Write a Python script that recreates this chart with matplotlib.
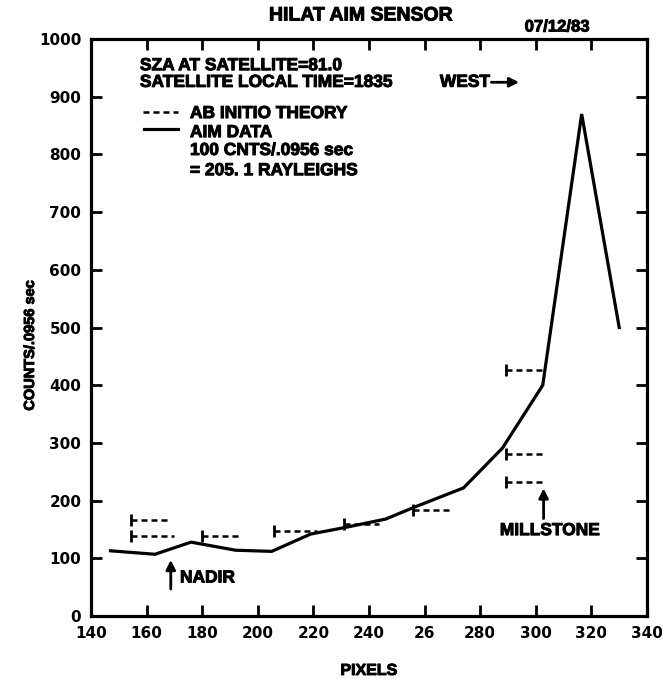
import matplotlib
matplotlib.use("Agg")
import matplotlib.pyplot as plt
import matplotlib.patheffects as pe

plt.rcParams['font.family'] = ['Liberation Sans', 'DejaVu Sans']

# AIM data (solid line)
aim_px = [147, 163, 176, 192, 205, 219, 232, 246, 256, 274, 288, 302.5, 316.5, 330]
aim_counts = [113, 107, 128, 114, 112, 142, 154, 168, 188, 222, 291, 400, 870, 500]

# ab initio theory segments (start pixel, end pixel, counts)
theo_x0 = [154.3, 154.3, 180.1, 205.8, 230.9, 255.9, 289.4, 289.4, 289.4]
theo_x1 = [168.4, 169.8, 194.2, 221.3, 243.7, 270.1, 302.8, 302.8, 303.3]
theo_y = [167, 139, 139, 147, 159, 183, 280, 232, 427]

xticks = [140, 160, 180, 200, 220, 240, 260, 280, 300, 320, 340]
xtick_labels = ['140', '160', '180', '200', '220', '240', '26', '280', '300', '320', '340']
yticks = [0, 100, 200, 300, 400, 500, 600, 700, 800, 900, 1000]

W, H = 662, 679
fig = plt.figure(figsize=(W / 100, H / 100), dpi=100)
ax = fig.add_axes([91 / W, 1 - 616 / H, (647 - 91) / W, (616 - 39) / H])

# heavier lettering, like the stencilled original
heavy = [pe.withStroke(linewidth=0.7, foreground='black')]

lw = 2.3
dash = (0, (2.4, 1.6))
ax.plot(aim_px, aim_counts, color='black', lw=lw, solid_joinstyle='miter')
for x0, x1, y in zip(theo_x0, theo_x1, theo_y):
    ax.plot([x0, x1], [y, y], color='black', lw=1.8, ls=dash)
    ax.plot([x0], [y], marker='|', color='black', ms=8, mew=2)

ax.set_xlim(140, 340)
ax.set_ylim(0, 1000)
ax.set_xticks(xticks)
ax.set_xticklabels(xtick_labels)
ax.set_yticks(yticks)
ax.tick_params(direction='in', length=8, width=2, top=True, right=True, pad=7)
for lab in ax.get_xticklabels() + ax.get_yticklabels():
    lab.set_fontfamily('DejaVu Sans')
    lab.set_fontweight('bold')
    lab.set_fontsize(11)
for s in ax.spines.values():
    s.set_linewidth(lw)

ax.set_xlabel('PIXELS', fontsize=11.5, fontweight='bold', labelpad=16, path_effects=heavy)
fig.text(30 / W, 1 - 345 / H, 'COUNTS/.0956 sec', rotation=90, ha='center', va='center',
         fontsize=10.5, fontweight='bold', path_effects=heavy)

# title and date
fig.text(361 / W, 1 - 16 / H, 'HILAT AIM SENSOR', ha='center', va='center', fontsize=14,
         fontweight='bold', path_effects=heavy)
fig.text(557 / W, 1 - 27 / H, '07/12/83', ha='center', va='center', fontsize=12,
         fontweight='bold', path_effects=heavy)

# notes inside the axes
tk = dict(fontsize=12.5, fontweight='bold', va='baseline', ha='left', path_effects=heavy)
ax.text(157.6, 946, 'SZA AT SATELLITE=81.0', **tk)
ax.text(157.6, 917, 'SATELLITE LOCAL TIME=1835', **tk)
ax.plot([158.7, 171.3], [873, 873], color='black', lw=1.8, ls=dash)
ax.text(175.6, 863, 'AB INITIO THEORY', **tk)
ax.plot([159, 171.3], [844, 844], color='black', lw=lw)
ax.text(175.6, 830, 'AIM DATA', **tk)
ax.text(175.6, 799, '100 CNTS/.0956 sec', **tk)
ax.text(175.6, 764, '= 205. 1 RAYLEIGHS', **tk)

ax.annotate('', xy=(295, 925), xytext=(283, 925),
            arrowprops=dict(arrowstyle='-|>', color='black', lw=2, mutation_scale=14))
ax.text(265.5, 925, 'WEST', fontsize=12.5, fontweight='bold', va='center', ha='left', path_effects=heavy)

ax.annotate('', xy=(168.7, 102), xytext=(168.7, 42),
            arrowprops=dict(arrowstyle='-|>', color='black', lw=2, mutation_scale=14))
ax.text(172, 66, 'NADIR', fontsize=12.5, fontweight='bold', va='center', ha='left', path_effects=heavy)

ax.annotate('', xy=(302.8, 226), xytext=(302.8, 164),
            arrowprops=dict(arrowstyle='-|>', color='black', lw=2, mutation_scale=14))
ax.text(305, 148, 'MILLSTONE', fontsize=12.5, fontweight='bold', va='center', ha='center', path_effects=heavy)

fig.savefig('out.png', dpi=100)
